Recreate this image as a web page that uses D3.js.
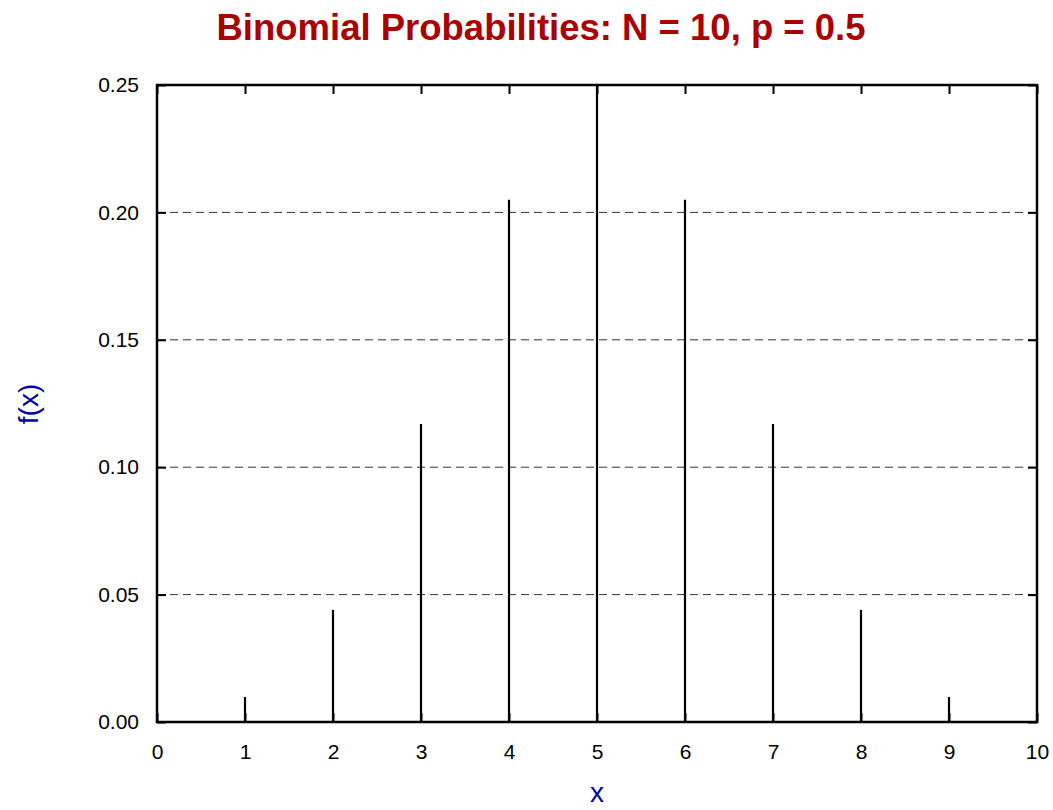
<!DOCTYPE html>
<html>
<head>
<meta charset="utf-8">
<script src="https://cdn.jsdelivr.net/npm/d3@7"></script>
<style>
  body { margin: 0; background: #fff; }
  text { font-family: "Liberation Sans", Arial, sans-serif; }
</style>
</head>
<body>
<div id="chart"></div>
<script>
// data
var xValues = [0, 1, 2, 3, 4, 5, 6, 7, 8, 9, 10];
var probs = [0.001, 0.0098, 0.044, 0.117, 0.205, 0.25, 0.205, 0.117, 0.044, 0.0098, 0.001];
var xTicks = [0, 1, 2, 3, 4, 5, 6, 7, 8, 9, 10];
var yTicks = [0, 0.05, 0.10, 0.15, 0.20, 0.25];
var gridTicks = [0.05, 0.10, 0.15, 0.20];

var W = 1053, H = 810;
var margin = {top: 85, right: 16, bottom: 88, left: 157};
var width = W - margin.left - margin.right,
    height = H - margin.top - margin.bottom;

var svg = d3.select("#chart").append("svg")
    .attr("width", W)
    .attr("height", H);

var g = svg.append("g").attr("transform", "translate(" + margin.left + "," + margin.top + ")");

var x = d3.scaleLinear().domain([0, 10]).range([0, width]);
var y = d3.scaleLinear().domain([0, 0.25]).range([height, 0]);

// dashed grid
g.selectAll(".grid")
  .data(gridTicks)
  .enter().append("line")
    .attr("x1", 0).attr("x2", width)
    .attr("y1", function(d) { return y(d); })
    .attr("y2", function(d) { return y(d); })
    .attr("stroke", "#333")
    .attr("stroke-width", 1)
    .attr("stroke-dasharray", "8,5");

// stems
g.selectAll(".stem")
  .data(xValues)
  .enter().append("line")
    .attr("x1", function(d) { return x(d); })
    .attr("x2", function(d) { return x(d); })
    .attr("y1", y(0))
    .attr("y2", function(d, i) { return y(probs[i]); })
    .attr("stroke", "#000")
    .attr("stroke-width", 2.2);

// axes with inward ticks on all four sides
var fmtY = d3.format(".2f");
var bottom = g.append("g")
    .attr("transform", "translate(0," + height + ")")
    .call(d3.axisBottom(x).tickValues(xTicks).tickSize(-9).tickPadding(22).tickFormat(d3.format("d")));
var top_ = g.append("g")
    .call(d3.axisTop(x).tickValues(xTicks).tickSize(-9).tickFormat(""));
var left = g.append("g")
    .call(d3.axisLeft(y).tickValues(yTicks).tickSize(-9).tickPadding(18).tickFormat(fmtY));
var right = g.append("g")
    .attr("transform", "translate(" + width + ",0)")
    .call(d3.axisRight(y).tickValues(yTicks).tickSize(-9).tickFormat(""));

[bottom, top_, left, right].forEach(function(a) {
    a.select(".domain").remove();
    a.selectAll(".tick line").attr("stroke", "#000").attr("stroke-width", 2);
    a.selectAll("text").attr("font-size", 21).attr("fill", "#000")
        .style("font-family", "'Liberation Sans', Arial, sans-serif");
});

// frame
g.append("rect")
    .attr("x", 0).attr("y", 0)
    .attr("width", width).attr("height", height)
    .attr("fill", "none")
    .attr("stroke", "#000")
    .attr("stroke-width", 2.5);

// title
svg.append("text")
    .attr("x", 541).attr("y", 40)
    .attr("text-anchor", "middle")
    .attr("font-size", 36.5)
    .attr("font-weight", "bold")
    .attr("fill", "#aa0000")
    .text("Binomial Probabilities: N = 10, p = 0.5");

// axis labels
svg.append("text")
    .attr("x", margin.left + width / 2).attr("y", 802)
    .attr("text-anchor", "middle")
    .attr("font-size", 28)
    .attr("fill", "#0000aa")
    .text("x");

svg.append("text")
    .attr("transform", "translate(38,404) rotate(-90)")
    .attr("text-anchor", "middle")
    .attr("font-size", 28)
    .attr("fill", "#0000aa")
    .text("f(x)");
</script>
</body>
</html>
